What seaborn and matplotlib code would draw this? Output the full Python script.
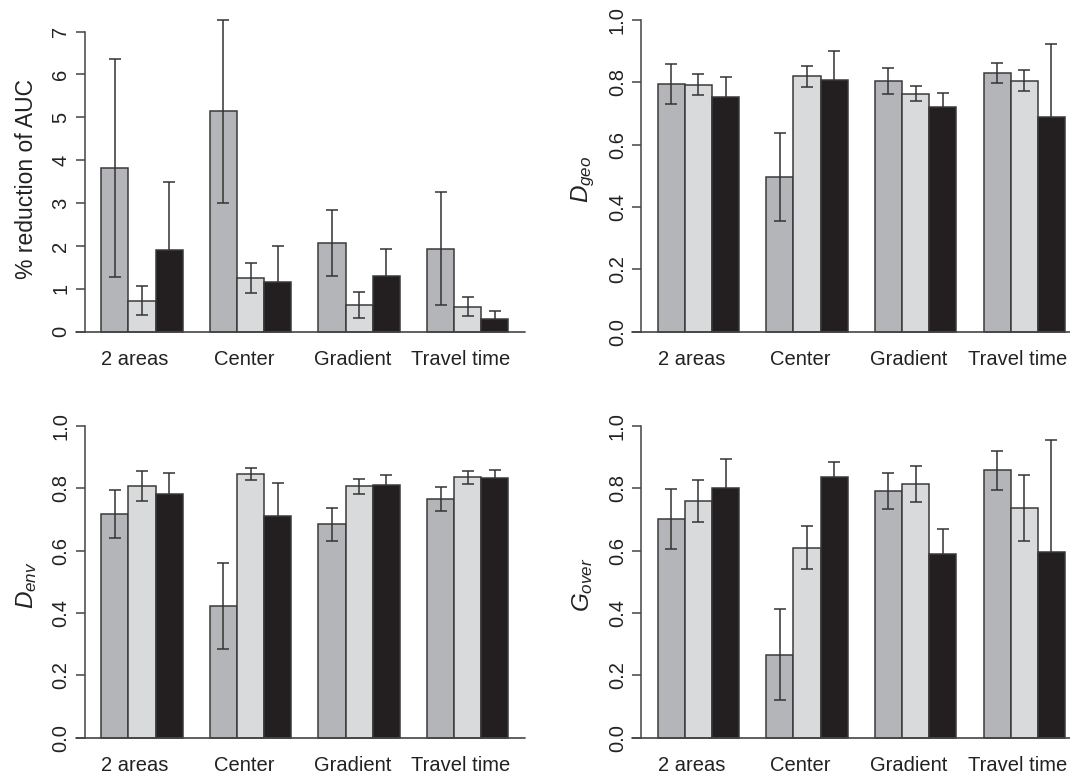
import numpy as np
import pandas as pd
import matplotlib
matplotlib.use("Agg")
import matplotlib.pyplot as plt
import seaborn as sns

# ---------------- data ----------------
categories = ["2 areas", "Center", "Gradient", "Travel time"]
series = ["Series 1", "Series 2", "Series 3"]

auc_mean_s1 = [3.82, 5.14, 2.07, 1.935]
auc_mean_s2 = [0.726, 1.26, 0.617, 0.585]
auc_mean_s3 = [1.91, 1.155, 1.295, 0.297]
auc_err_s1 = [2.535, 2.13, 0.775, 1.317]
auc_err_s2 = [0.336, 0.353, 0.30, 0.218]
auc_err_s3 = [1.59, 0.835, 0.64, 0.18]

dgeo_mean_s1 = [0.796, 0.495, 0.805, 0.830]
dgeo_mean_s2 = [0.793, 0.819, 0.763, 0.805]
dgeo_mean_s3 = [0.752, 0.808, 0.722, 0.689]
dgeo_err_s1 = [0.064, 0.141, 0.041, 0.033]
dgeo_err_s2 = [0.035, 0.033, 0.024, 0.034]
dgeo_err_s3 = [0.064, 0.091, 0.044, 0.235]

denv_mean_s1 = [0.718, 0.422, 0.684, 0.766]
denv_mean_s2 = [0.807, 0.846, 0.806, 0.835]
denv_mean_s3 = [0.781, 0.710, 0.810, 0.832]
denv_err_s1 = [0.078, 0.138, 0.052, 0.038]
denv_err_s2 = [0.048, 0.020, 0.025, 0.021]
denv_err_s3 = [0.069, 0.107, 0.033, 0.026]

gover_mean_s1 = [0.703, 0.266, 0.792, 0.858]
gover_mean_s2 = [0.759, 0.610, 0.813, 0.737]
gover_mean_s3 = [0.802, 0.837, 0.589, 0.596]
gover_err_s1 = [0.096, 0.146, 0.057, 0.063]
gover_err_s2 = [0.067, 0.070, 0.058, 0.107]
gover_err_s3 = [0.093, 0.048, 0.081, 0.358]

auc_ticks = [0, 1, 2, 3, 4, 5, 6, 7]
index_ticks = [0.0, 0.2, 0.4, 0.6, 0.8, 1.0]

# ---------------- style ----------------
sns.set_style("white")
plt.rcParams["font.family"] = ["Liberation Sans", "DejaVu Sans"]
plt.rcParams["mathtext.fontset"] = "custom"
plt.rcParams["mathtext.rm"] = "Liberation Sans"
plt.rcParams["mathtext.it"] = "Liberation Sans:italic"
plt.rcParams["mathtext.bf"] = "Liberation Sans:bold"

colors = ["#b4b5b9", "#d9dadc", "#231f20"]
edge = "#3a3a3a"
axis_col = "#444444"

fig = plt.figure(figsize=(10.7, 7.77), dpi=100)

W = 0.4110
H = 0.4333
positions = [
    [0.0794, 0.5570, W, H],
    [0.5995, 0.5570, W, H],
    [0.0794, 0.0345, W, H],
    [0.5995, 0.0345, W, H],
]

panels = [
    ("% reduction of AUC", [auc_mean_s1, auc_mean_s2, auc_mean_s3],
     [auc_err_s1, auc_err_s2, auc_err_s3], auc_ticks, "int"),
    (r"$D_{geo}$", [dgeo_mean_s1, dgeo_mean_s2, dgeo_mean_s3],
     [dgeo_err_s1, dgeo_err_s2, dgeo_err_s3], index_ticks, "float"),
    (r"$D_{env}$", [denv_mean_s1, denv_mean_s2, denv_mean_s3],
     [denv_err_s1, denv_err_s2, denv_err_s3], index_ticks, "float"),
    (r"$G_{over}$", [gover_mean_s1, gover_mean_s2, gover_mean_s3],
     [gover_err_s1, gover_err_s2, gover_err_s3], index_ticks, "float"),
]

for pos, (ylab, means, errs, yticks, fmt) in zip(positions, panels):
    ax = fig.add_axes(pos)
    rows = []
    for s, m in zip(series, means):
        for c, v in zip(categories, m):
            rows.append({"category": c, "series": s, "value": v})
    df = pd.DataFrame(rows)
    sns.barplot(data=df, x="category", y="value", hue="series",
                order=categories, hue_order=series, palette=colors,
                errorbar=None, width=0.75, gap=0, saturation=1,
                edgecolor=edge, linewidth=1.1, legend=False, ax=ax)
    for k, (container, m, e) in enumerate(zip(ax.containers, means, errs)):
        xs = [b.get_x() + b.get_width() / 2 for b in container]
        # the whisker inside the black bars is hidden behind the bar
        z = 0.5 if k == 2 else 4
        ax.errorbar(xs, m, yerr=e, fmt="none", ecolor="#333333",
                    elinewidth=1.1, capsize=4.6, capthick=1.1, zorder=z)

    # R-like limits
    if fmt == "float":
        ytop = 1.0
    else:
        ytop = max(max(np.array(m) + np.array(e)) for m, e in zip(means, errs))
    ax.set_ylim(-0.04 * ytop, 1.04 * ytop)
    ax.set_xlim(-0.525, 3.525)

    for sp in ["top", "right", "bottom"]:
        ax.spines[sp].set_visible(False)
    ax.spines["left"].set_bounds(yticks[0], yticks[-1])
    ax.spines["left"].set_color(axis_col)
    ax.spines["left"].set_linewidth(1.1)
    ax.plot([-0.608, 3.525], [0, 0], color=axis_col, lw=1.2,
            clip_on=False, zorder=5)

    ax.set_yticks(yticks)
    if fmt == "int":
        ax.set_yticklabels([str(t) for t in yticks])
    else:
        ax.set_yticklabels([f"{t:.1f}" for t in yticks])
    ax.tick_params(axis="y", left=True, length=6.5, width=1.1, color=axis_col,
                   pad=4, labelsize=14.5, labelrotation=90, labelcolor="#222222")
    for lbl in ax.get_yticklabels():
        lbl.set_va("center")

    ax.set_xticks(np.arange(len(categories)) - 0.0625)
    ax.set_xticklabels(categories)
    ax.tick_params(axis="x", length=0, pad=4.3, labelsize=14.5,
                   labelcolor="#222222")
    ax.set_xlabel("")
    ax.set_ylabel(ylab, fontsize=16.5 if fmt == "int" else 17.5,
                  color="#222222", va="center")
    ax.yaxis.set_label_coords(-0.133, 0.49)
    ax.grid(False)
    ax.set_facecolor("none")

fig.savefig("out.png", dpi=100, facecolor="white")
